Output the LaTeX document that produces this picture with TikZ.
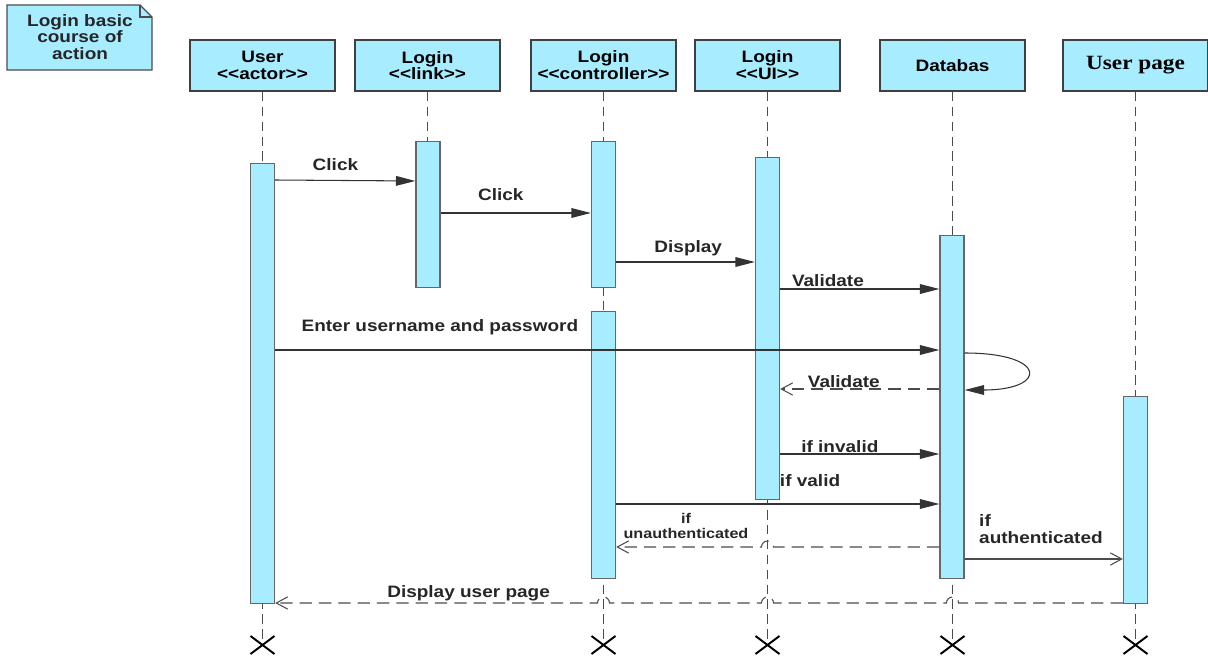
\documentclass[tikz,border=0pt]{standalone}
\usepackage{fontspec}
\setmainfont{Liberation Sans}[FakeStretch=1.15]
\newfontfamily\pageserif{Liberation Serif}[FakeStretch=1.15]
\usetikzlibrary{arrows.meta, calc}

\newcommand{\upx}{0.02cm}
\newcommand{\st}[1]{{<}{<}#1{>}{>}}
\definecolor{actfill}{RGB}{168,236,255}

\begin{document}
\begin{tikzpicture}[x=0.02cm, y=-0.02cm, font=\bfseries\fontsize{9.4}{9.6}\selectfont,
    head box/.style={draw=black!75, fill=actfill, line width=0.8pt, minimum width=145*\upx, minimum height=51*\upx, align=center, inner sep=1pt},
    act bar/.style={draw=black!60, fill=actfill, line width=0.8pt, minimum width=24*\upx, anchor=north, inner sep=0pt},
    life line/.style={draw=black!70, line width=0.7pt, dash pattern=on 5.5pt off 3pt},
    msg/.style={draw=black!80, line width=0.6pt, -{Triangle[length=11pt, width=5.5pt]}},
    ret/.style={draw=black!70, line width=0.6pt, dash pattern=on 7pt off 4pt, -{Straight Barb[length=6.5pt, width=7pt]}},
    reply/.style={draw=black!70, line width=0.6pt, -{Straight Barb[length=6.5pt, width=7pt]}},
    lbl/.style={text=black!85, inner sep=0pt, anchor=center},
    kill/.style={line width=1.1pt}]
    \useasboundingbox (0,0) rectangle (1208,659);

    % Note
    \draw[draw=black!70, fill=actfill, line width=0.8pt] (7,5) -- (140,5) -- (152,17) -- (152,70) -- (7,70) -- cycle;
    \draw[black!70, line width=0.6pt] (140,5) -- (140,17) -- (152,17);
    \node[lbl, align=center] (note) at (80,37) {Login basic\\course of\\action};

    % Lifeline heads
    \node[head box] (user) at (262.5,65.5) {User\\\st{actor}};
    \node[head box] (link) at (427.5,65.5) {Login\\\st{link}};
    \node[head box] (ctrl) at (603.5,65.5) {Login\\\st{controller}};
    \node[head box] (ui) at (767.5,65.5) {Login\\\st{UI}};
    \node[head box] (db) at (952.5,65.5) {Databas};
    \node[head box, font=\pageserif\bfseries\fontsize{11.5}{12}\selectfont] (page) at (1135.5,65.5) {User page};

    % Lifelines and ends
    \draw[life line] (link.south) -- (link.south |- 0,141);
    \foreach \n in {user, ctrl, ui, db, page} {
        \coordinate (\n end) at (\n.south |- 0,645);
        \draw[life line] (\n.south) -- (\n end);
        \draw[kill] ($(\n end)+(-12,-9)$) -- ($(\n end)+(12,9)$) ($(\n end)+(-12,9)$) -- ($(\n end)+(12,-9)$);
    }

    % Activation bars
    \node[act bar, minimum height=440*\upx] (ua) at (262.5,163) {};
    \node[act bar, minimum height=146*\upx] (la) at (428,141) {};
    \node[act bar, minimum height=146*\upx] (ca1) at (603.5,141) {};
    \node[act bar, minimum height=267*\upx] (ca2) at (603.5,311) {};
    \node[act bar, minimum height=342*\upx] (uia) at (767.5,157) {};
    \node[act bar, minimum height=343*\upx] (dba) at (952,235) {};
    \node[act bar, minimum height=207*\upx] (pa) at (1135.5,396) {};

    % Messages
    \draw[msg] (ua.east |- 0,180) -- (la.west |- 0,181) node[lbl, pos=.43, yshift=16*\upx] {Click};
    \draw[msg] (la.east |- 0,213) -- (ca1.west |- 0,213) node[lbl, pos=.4, yshift=18*\upx] {Click};
    \draw[msg] (ca1.east |- 0,262) -- (uia.west |- 0,262) node[lbl, pos=.52, yshift=14*\upx] {Display};
    \draw[msg] (uia.east |- 0,289) -- (dba.west |- 0,289) node[lbl, pos=.3, yshift=8*\upx] {Validate};
    \draw[msg] (ua.east |- 0,350) -- (dba.west |- 0,350) node[lbl, pos=.248, yshift=23*\upx] {Enter username and password};
    \draw[msg] (dba.east |- 0,353) .. controls (1048,353) and (1048,390) .. (dba.east |- 0,390);
    \draw[ret] (dba.west |- 0,389) -- (uia.east |- 0,389) node[lbl, pos=.6, yshift=7*\upx] {Validate};
    \draw[msg] (uia.east |- 0,454) -- (dba.west |- 0,454) node[lbl, pos=.375, yshift=7*\upx] {if invalid};
    \draw[msg] (ca2.east |- 0,504) -- (dba.west |- 0,504) node[lbl, pos=.6, yshift=23*\upx] {if valid};
    \draw[ret] (dba.west |- 0,547) -- ($(ui.south |- 0,547)+(6,0)$) arc[start angle=0, end angle=180, radius=6*\upx]
        -- (ca2.east |- 0,547) node[lbl, pos=.52, yshift=21*\upx, align=center, font=\bfseries\fontsize{8}{9}\selectfont] {if\\unauthenticated};
    \draw[reply] (dba.east |- 0,559) -- (pa.west |- 0,559) node[lbl, at start, anchor=south west, xshift=14*\upx, yshift=15*\upx, align=left] {if\\authenticated};
    \draw[ret] (pa.west |- 0,603) -- ($(db.south |- 0,603)+(6,0)$) arc[start angle=0, end angle=180, radius=6*\upx]
        -- ($(ui.south |- 0,603)+(6,0)$) arc[start angle=0, end angle=180, radius=6*\upx]
        -- ($(ctrl.south |- 0,603)+(6,0)$) arc[start angle=0, end angle=180, radius=6*\upx]
        -- (ua.east |- 0,603) node[lbl, pos=.4, yshift=10*\upx] {Display user page};
\end{tikzpicture}
\end{document}
